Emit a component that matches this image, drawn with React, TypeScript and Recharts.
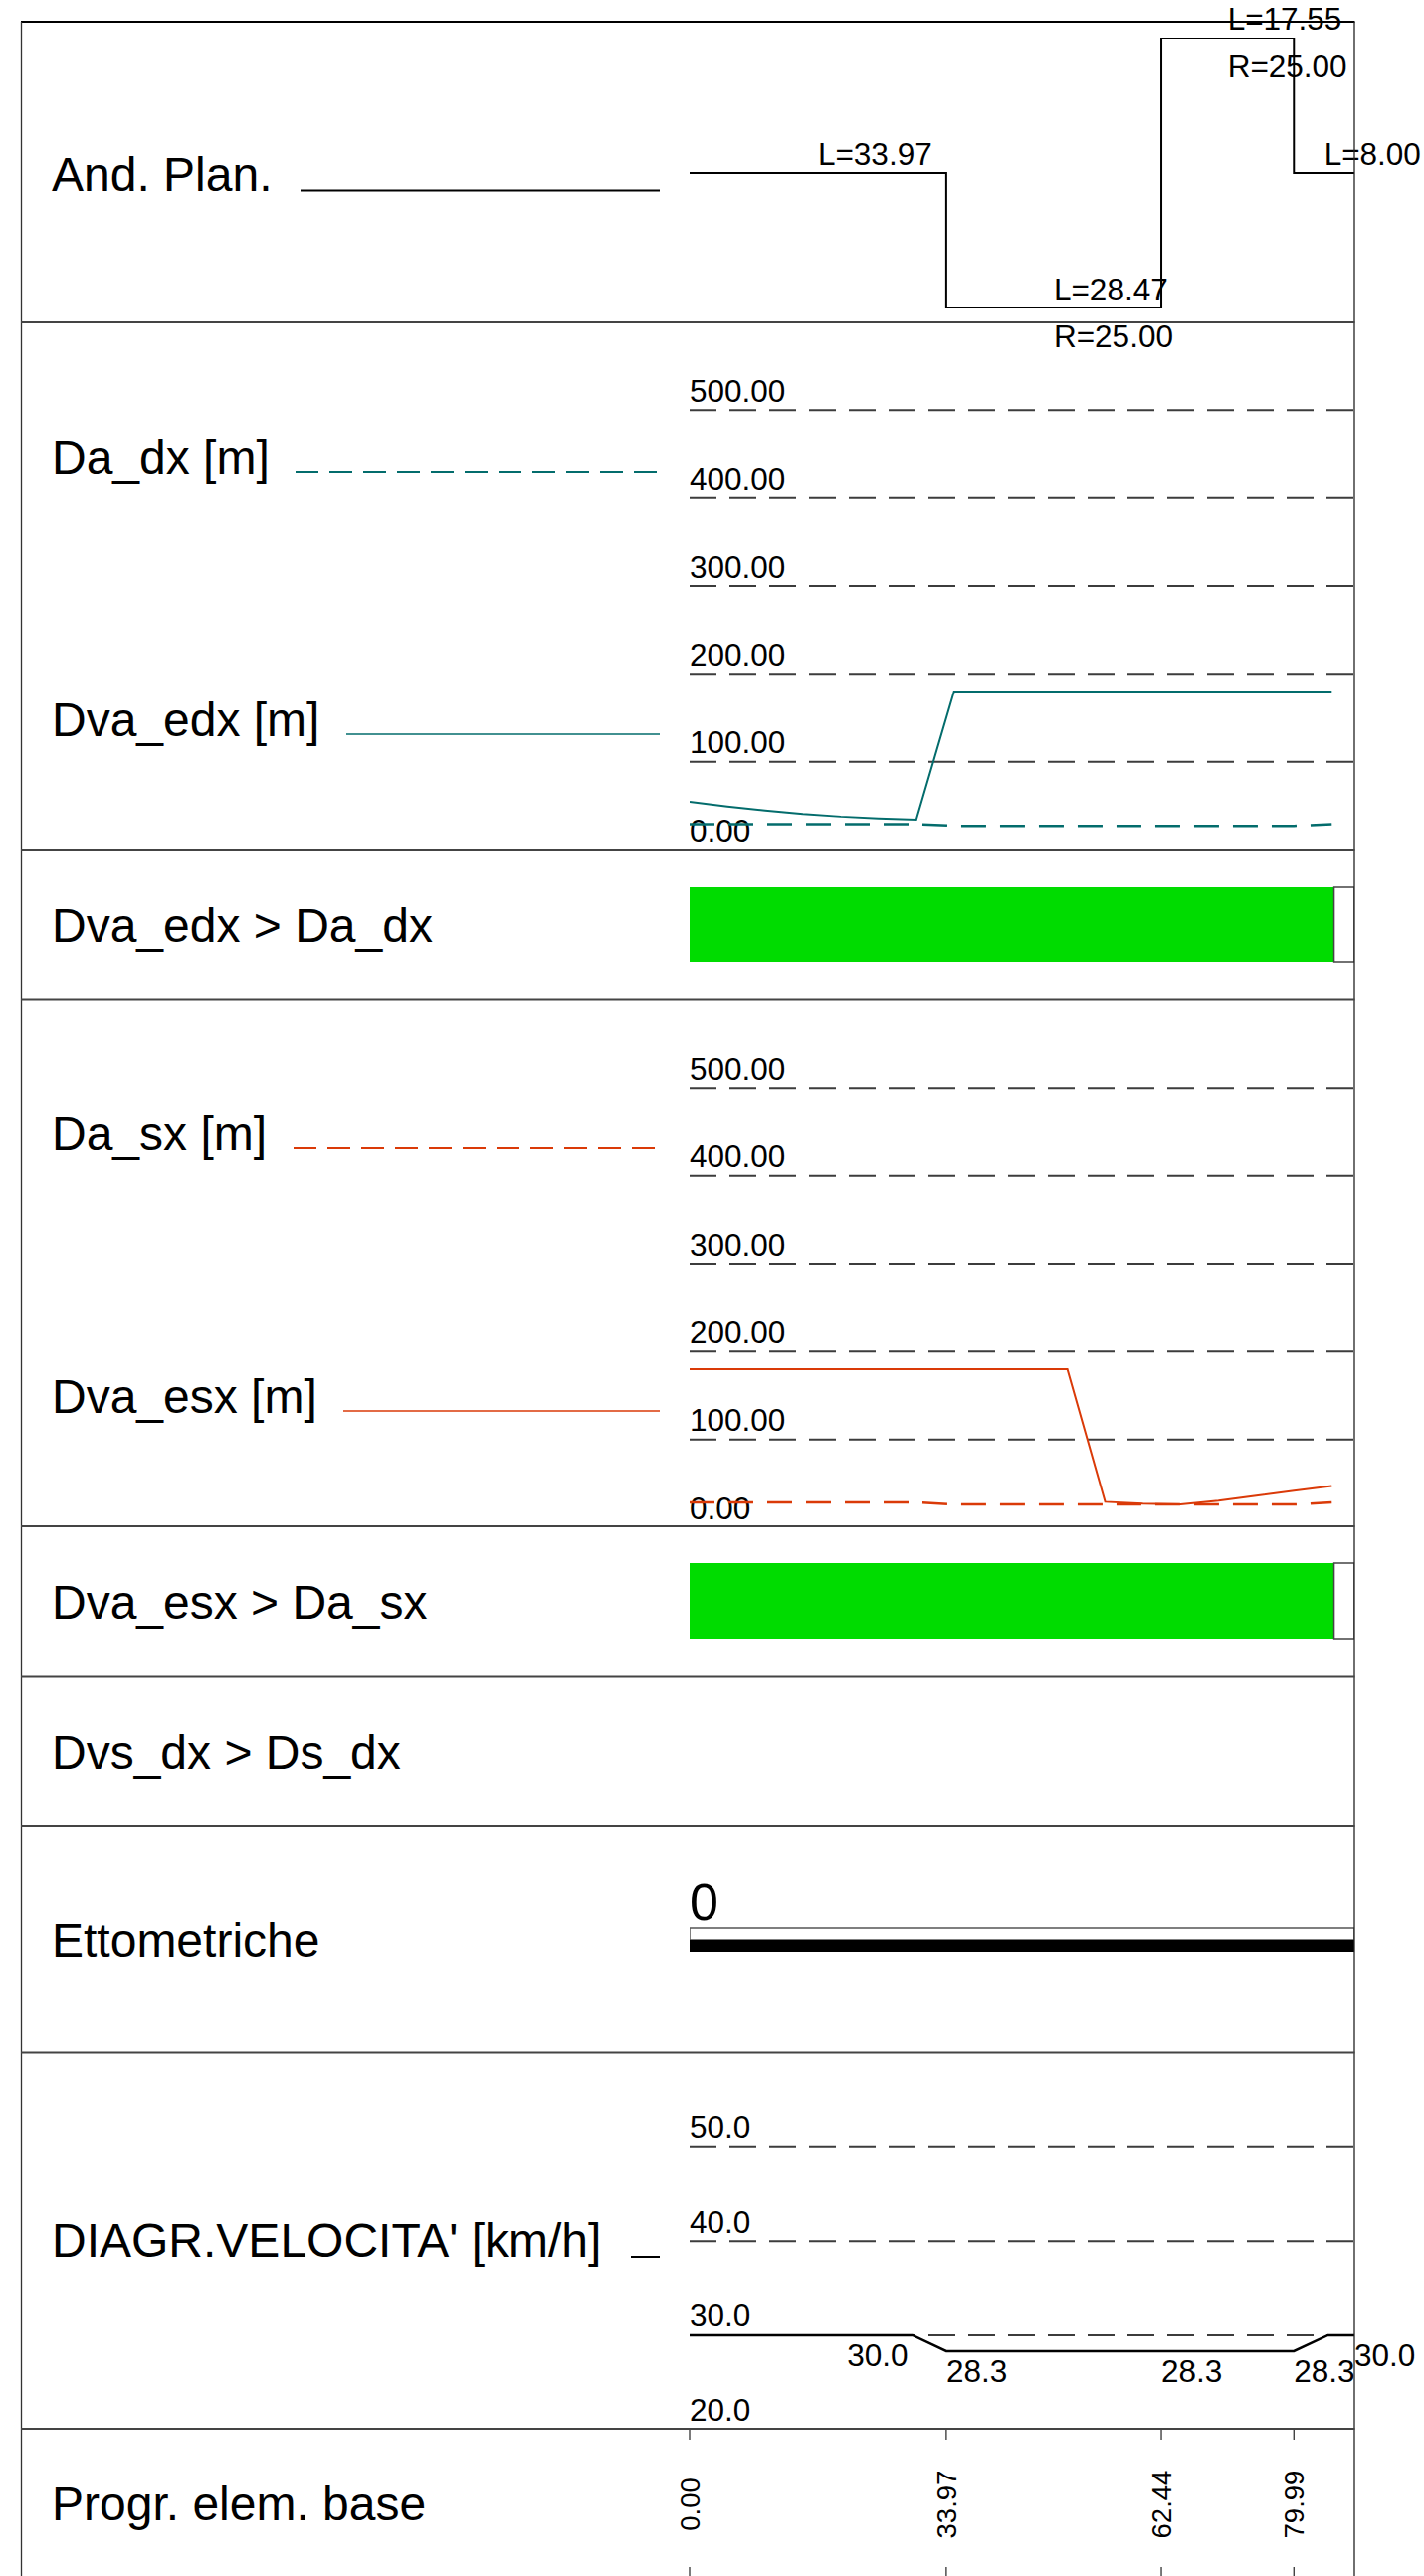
import {
  Bar,
  BarChart,
  Cell,
  ComposedChart,
  LabelList,
  Line,
  ReferenceLine,
  XAxis,
  YAxis,
} from 'recharts'

const FONT = '"Liberation Sans", Arial, Helvetica, sans-serif'

// plan elements (andamento planimetrico)
const elemStart = [0, 33.97, 62.44, 79.99]
const elemLength = [33.97, 28.47, 17.55, 8.0]
const elemRadius = [0, 25.0, 25.0, 0]
const elemSide = [0, -1, 1, 0]
const roadEnd = 87.99

// visibility sections, every 5 m
const sectionX = [0, 5, 10, 15, 20, 25, 30, 35, 40, 45, 50, 55, 60, 65, 70, 75, 80, 85]
const daDx = [29, 29, 29, 29, 29, 29, 29, 27, 27, 27, 27, 27, 27, 27, 27, 27, 27, 29]
const dvaEdx = [54.3, 49, 44.5, 40.5, 37.5, 35.5, 34, 180, 180, 180, 180, 180, 180, 180, 180, 180, 180, 180]
const daSx = [28.3, 28.3, 28.3, 28.3, 28.3, 28.3, 28.3, 26, 26, 26, 26, 26, 26, 26, 26, 26, 26, 28.3]
const dvaEsx = [180, 180, 180, 180, 180, 180, 180, 180, 180, 180, 180, 29, 27, 26, 30.3, 36, 41.5, 47]
const distTicks = [0, 100, 200, 300, 400, 500]
const distMax = 600

// verification bars: verified up to checkOkEnd, blank cell after
const checkOkEnd = 85.3

// ettometriche
const hectoStart = [0]
const hectoLabel = ['0']

// speed diagram
const speedX = [0, 29.5, 33.97, 79.99, 84.5, 87.99]
const speedV = [30, 30, 28.3, 28.3, 30, 30]
const speedLabelX = [29.5, 33.97, 62.44, 79.99, 87.99]
const speedLabelV = [30.0, 28.3, 28.3, 28.3, 30.0]
const speedTicks = [20, 30, 40, 50]

// progressive of base elements
const progr = [0, 33.97, 62.44, 79.99]

const W = 1431
const H = 2589
const margin = { left: 693, right: 70 }
const TEAL = '#036c6c'
const ORANGE = '#da3a08'
const GREEN = '#00dc00'
const GRID = '#3c3c3c'
const SMALL = 31.5

const curv = elemRadius.map((r, i) => (r ? elemSide[i] / r : 0))
const planPts = [...elemStart.map((x, i) => ({ x, v: curv[i] })), { x: roadEnd, v: curv[curv.length - 1] }]
const planLabels = elemStart.map((s, i) => ({
  x: s + elemLength[i] / 2,
  v: curv[i],
  L: `L=${elemLength[i].toFixed(2)}`,
  R: elemRadius[i] ? `R=${elemRadius[i].toFixed(2)}` : '',
}))
const series = (vals: number[]) => sectionX.map((x, i) => ({ x, v: vals[i] }))
const speedPts = speedX.map((x, i) => ({ x, v: speedV[i] }))
const speedLabels = speedLabelX.map((x, i) => ({ x, v: speedLabelV[i], t: speedLabelV[i].toFixed(1) }))
const progrPts = progr.map((x) => ({ x, v: 0 }))

function GridLabel(props: any) {
  const { viewBox, text } = props
  if (!viewBox) return null
  return (
    <text x={viewBox.x} y={viewBox.y - 8.5} fontSize={SMALL} fontFamily={FONT} fill="#000">
      {text}
    </text>
  )
}

function PlanL(props: any) {
  const { x, y, value } = props
  return (
    <text x={x} y={y - 8} fontSize={SMALL} fontFamily={FONT} fill="#000">
      {value}
    </text>
  )
}

function PlanR(props: any) {
  const { x, y, value } = props
  if (!value) return null
  return (
    <text x={x} y={y + 38.5} fontSize={SMALL} fontFamily={FONT} fill="#000">
      {value}
    </text>
  )
}

function SpeedLabel(props: any) {
  const { x, y, value, index } = props
  const first = index === 0
  return (
    <text x={first ? x - 4.5 : x} y={y + 31} textAnchor={first ? 'end' : 'start'} fontSize={SMALL} fontFamily={FONT} fill="#000">
      {value}
    </text>
  )
}

function ProgrTick(props: any) {
  const { x, payload } = props
  return (
    <g>
      <line x1={x} x2={x} y1={0} y2={11} stroke="#333" strokeWidth={1.3} />
      <line x1={x} x2={x} y1={139} y2={148} stroke="#333" strokeWidth={1.3} />
      <text
        transform={`rotate(-90 ${x + 10} 76)`}
        x={x + 10}
        y={76}
        textAnchor="middle"
        fontSize={27.5}
        fontFamily={FONT}
        fill="#000"
      >
        {Number(payload.value).toFixed(2)}
      </text>
    </g>
  )
}

function DistPanel({ top, dashed, solid, color }: { top: number; dashed: number[]; solid: number[]; color: string }) {
  return (
    <div style={{ position: 'absolute', left: 0, top }}>
      <ComposedChart width={W} height={530} margin={{ ...margin, top: 0, bottom: 0 }}>
        <XAxis type="number" dataKey="x" domain={[0, roadEnd]} allowDataOverflow hide />
        <YAxis type="number" domain={[0, distMax]} allowDataOverflow hide />
        {distTicks.map((t) => (
          <ReferenceLine
            key={t}
            y={t}
            stroke={GRID}
            strokeWidth={2}
            strokeDasharray="27 13"
            label={<GridLabel text={t.toFixed(2)} />}
          />
        ))}
        <Line
          data={series(dashed)}
          dataKey="v"
          type="linear"
          stroke={color}
          strokeWidth={2.5}
          strokeDasharray="25 14"
          dot={false}
          isAnimationActive={false}
        />
        <Line
          data={series(solid)}
          dataKey="v"
          type="linear"
          stroke={color}
          strokeWidth={2}
          dot={false}
          isAnimationActive={false}
        />
      </ComposedChart>
    </div>
  )
}

function CheckPanel({ top }: { top: number }) {
  const data = [{ row: 'check', ok: checkOkEnd, na: roadEnd - checkOkEnd }]
  return (
    <div style={{ position: 'absolute', left: 0, top }}>
      <BarChart layout="vertical" width={W} height={150} data={data} margin={{ ...margin, top: 0, bottom: 0 }} barCategoryGap={0}>
        <XAxis type="number" domain={[0, roadEnd]} allowDataOverflow hide />
        <YAxis type="category" dataKey="row" hide />
        <Bar dataKey="ok" stackId="s" fill={GREEN} barSize={76} isAnimationActive={false} />
        <Bar dataKey="na" stackId="s" fill="#fff" stroke="#444" strokeWidth={1.5} barSize={76} isAnimationActive={false} />
      </BarChart>
    </div>
  )
}

const rowLabels: [string, number][] = [
  ['And. Plan.', 191.7],
  ['Da_dx [m]', 476],
  ['Dva_edx [m]', 740],
  ['Dva_edx > Da_dx', 946.5],
  ['Da_sx [m]', 1156],
  ['Dva_esx [m]', 1420],
  ['Dva_esx > Da_sx', 1626.5],
  ['Dvs_dx > Ds_dx', 1777.5],
  ['Ettometriche', 1966.5],
  ["DIAGR.VELOCITA' [km/h]", 2268],
  ['Progr. elem. base', 2533],
]

const separators = [324, 854, 1004.5, 1534, 1684.5, 1835, 2062.5, 2441]

export default function App() {
  const hectoData = [
    { row: 'top', v: roadEnd },
    { row: 'bottom', v: roadEnd },
  ]
  return (
    <div style={{ position: 'absolute', left: 0, top: 0, width: W, height: H, overflow: 'hidden', background: '#fff' }}>
      {/* plan */}
      <div style={{ position: 'absolute', left: 0, top: 0 }}>
        <ComposedChart width={W} height={360} margin={{ ...margin, top: 38, bottom: 50 }}>
          <XAxis type="number" dataKey="x" domain={[0, roadEnd]} allowDataOverflow hide />
          <YAxis type="number" domain={[-1 / 25, 1 / 25]} allowDataOverflow hide />
          <Line data={planPts} dataKey="v" type="stepAfter" stroke="#000" strokeWidth={2} dot={false} isAnimationActive={false} />
          <Line data={planLabels} dataKey="v" stroke="none" dot={false} isAnimationActive={false}>
            <LabelList dataKey="L" content={<PlanL />} />
            <LabelList dataKey="R" content={<PlanR />} />
          </Line>
        </ComposedChart>
      </div>

      <DistPanel top={324} dashed={daDx} solid={dvaEdx} color={TEAL} />
      <CheckPanel top={854} />
      <DistPanel top={1004.5} dashed={daSx} solid={dvaEsx} color={ORANGE} />
      <CheckPanel top={1534} />

      {/* ettometriche */}
      <div style={{ position: 'absolute', left: 0, top: 1880 }}>
        <BarChart layout="vertical" width={W} height={82} data={hectoData} margin={{ ...margin, top: 58, bottom: 0 }} barCategoryGap={0}>
          <XAxis type="number" domain={[0, roadEnd]} allowDataOverflow hide />
          <YAxis type="category" dataKey="row" hide />
          <Bar dataKey="v" isAnimationActive={false}>
            <Cell fill="#fff" stroke="#555" strokeWidth={1.5} />
            <Cell fill="#000" />
            <LabelList
              dataKey="v"
              content={(p: any) =>
                p.index === 0 ? (
                  <text x={p.x + hectoStart[0]} y={p.y - 8.5} fontSize={52} fontFamily={FONT} fill="#000">
                    {hectoLabel[0]}
                  </text>
                ) : null
              }
            />
          </Bar>
        </BarChart>
      </div>

      {/* speed diagram */}
      <div style={{ position: 'absolute', left: 0, top: 2062.5 }}>
        <ComposedChart width={W} height={378.5} margin={{ ...margin, top: 0, bottom: 0 }}>
          <XAxis type="number" dataKey="x" domain={[0, roadEnd]} allowDataOverflow hide />
          <YAxis type="number" domain={[20, 60]} allowDataOverflow hide />
          {speedTicks.map((t) => (
            <ReferenceLine
              key={t}
              y={t}
              stroke={GRID}
              strokeWidth={2}
              strokeDasharray="27 13"
              label={<GridLabel text={t.toFixed(1)} />}
            />
          ))}
          <Line data={speedPts} dataKey="v" type="linear" stroke="#000" strokeWidth={2.5} dot={false} isAnimationActive={false} />
          <Line data={speedLabels} dataKey="v" stroke="none" dot={false} isAnimationActive={false}>
            <LabelList dataKey="t" content={<SpeedLabel />} />
          </Line>
        </ComposedChart>
      </div>

      {/* progressive */}
      <div style={{ position: 'absolute', left: 0, top: 2441 }}>
        <ComposedChart width={W} height={148} margin={{ ...margin, top: 0, bottom: 0 }}>
          <XAxis
            type="number"
            dataKey="x"
            domain={[0, roadEnd]}
            allowDataOverflow
            orientation="top"
            ticks={progr}
            interval={0}
            axisLine={false}
            tickLine={false}
            height={1}
            tick={<ProgrTick />}
          />
          <YAxis type="number" domain={[-1, 1]} hide />
          <Line data={progrPts} dataKey="v" stroke="none" dot={false} isAnimationActive={false} />
        </ComposedChart>
      </div>

      {/* frame, row titles and legend keys */}
      <svg width={W} height={H} style={{ position: 'absolute', left: 0, top: 0, pointerEvents: 'none' }}>
        <line x1={21} x2={1361.5} y1={22} y2={22} stroke="#000" strokeWidth={2} />
        <line x1={21.5} x2={21.5} y1={22} y2={H} stroke="#333" strokeWidth={1.3} />
        <line x1={1361} x2={1361} y1={22} y2={H} stroke="#222" strokeWidth={1.3} />
        {separators.map((y) => (
          <line key={y} x1={21} x2={1361.5} y1={y} y2={y} stroke="#444" strokeWidth={1.8} />
        ))}
        {rowLabels.map(([t, y]) => (
          <text key={t} x={52} y={y} fontSize={48} fontFamily={FONT} fill="#000">
            {t}
          </text>
        ))}
        <line x1={302} x2={663} y1={191.5} y2={191.5} stroke="#000" strokeWidth={2} />
        <line x1={297} x2={663} y1={474} y2={474} stroke={TEAL} strokeWidth={2} strokeDasharray="23 11" />
        <line x1={348} x2={663} y1={738} y2={738} stroke={TEAL} strokeWidth={1.6} />
        <line x1={295} x2={663} y1={1154} y2={1154} stroke={ORANGE} strokeWidth={2} strokeDasharray="23 11" />
        <line x1={345} x2={663} y1={1418} y2={1418} stroke={ORANGE} strokeWidth={1.6} />
        <line x1={634} x2={663} y1={2268} y2={2268} stroke="#000" strokeWidth={2} />
      </svg>
    </div>
  )
}
